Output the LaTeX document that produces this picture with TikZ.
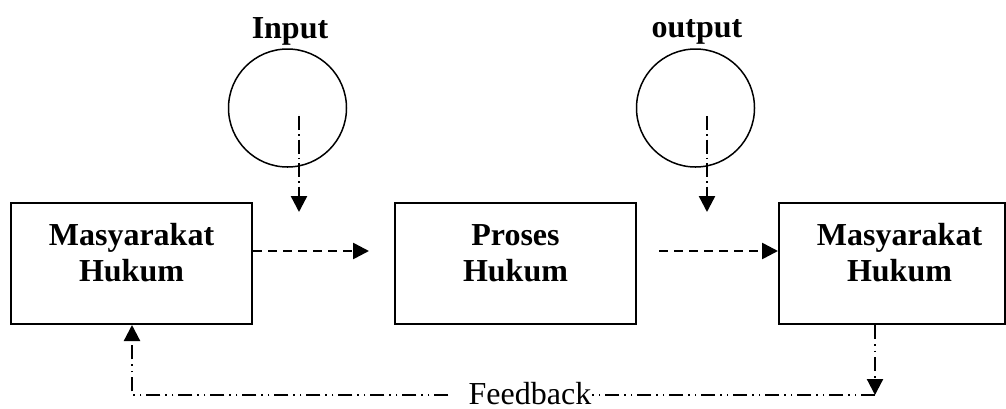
\documentclass[tikz,border=0pt]{standalone}
\usepackage{fontspec}
\setmainfont{Liberation Serif}
\usetikzlibrary{arrows.meta}
\def\blocks{{(131.5,263.5)/mA/120.5pt}, {(515.5,263.5)/pB/120.5pt}, {(892,263.5)/mC/113pt}}
\def\blocktexts{{(131.5,223)/mA/Masyarakat\\Hukum}, {(515.5,224)/pB/Proses\\Hukum}, {(899.5,223)/mC/Masyarakat\\Hukum}}
\tikzstyle{block} = [draw, line width=1pt, minimum height=60.5pt, inner sep=0pt]
\tikzstyle{block text} = [font=\bfseries\fontsize{16}{18}\selectfont, align=center, inner sep=0pt, anchor=north]
\tikzstyle{ring} = [draw, circle, line width=0.75pt, minimum size=59pt, inner sep=0pt]
\tikzstyle{ring text} = [font=\bfseries\fontsize{16}{18}\selectfont, inner sep=0pt, anchor=base]
\tikzstyle{tip} = [-{Triangle[length=8pt,width=8pt]}]
\tikzstyle{dash flow} = [draw, line width=1.3pt, dash pattern=on 4.5pt off 3pt, tip]
\tikzstyle{dot flow} = [draw, line width=1.2pt, dash pattern=on 7pt off 2pt on 0.75pt off 2pt, tip]
\tikzstyle{feedback} = [draw, line width=1.1pt, dash pattern=on 7pt off 2.5pt on 0.75pt off 2.5pt on 0.75pt off 2.5pt]

\begin{document}
\begin{tikzpicture}[x=0.5pt, y=-0.5pt]
  \useasboundingbox (0,0) rectangle (1006,408);
  \clip (0,0) rectangle (1006,408);

  % The three blocks and their texts
  \foreach \pos/\name/\bw in \blocks {
    \node[block, minimum width=\bw] (\name) at \pos {};
  }
  \foreach \pos/\name/\txt in \blocktexts {
    \node[block text] (\name-t) at \pos {\txt};
  }

  % Input and output circles
  \node[ring] (inC) at (287.5,108) {};
  \node[ring] (outC) at (695.5,108) {};
  \node[ring text] (inT) at (290,38) {Input};
  \node[ring text] (outT) at (697,37) {output};

  \coordinate (inS) at (299,116);
  \coordinate (inE) at (299,212);
  \coordinate (outS) at (707,116);
  \coordinate (outE) at (707,212);
  \draw[dot flow] (inS) -- (inE);
  \draw[dot flow] (outS) -- (outE);

  % The flow through the process
  \draw[dash flow, shorten >=12.5pt] ([yshift=6.25pt]mA.east) -- ([yshift=6.25pt]pB.west);
  \draw[dash flow, shorten <=11pt] ([yshift=6.25pt]pB.east) -- ([yshift=6.25pt]mC.west);

  % Feedback back to the start
  \node[font=\fontsize{16}{18}\selectfont, inner sep=0pt, anchor=base] (fb) at (530,404) {Feedback};
  \coordinate (fbR) at (875,395);
  \coordinate (fbL) at (132,395);
  \draw[feedback, tip] (mC.south -| fbR) -- (fbR);
  \draw[feedback] (fbR) -- (fb.east |- fbR);
  \draw[feedback, tip] ([xshift=-10pt]fb.west |- fbL) -- (fbL) -- (mA.south -| fbL);
\end{tikzpicture}
\end{document}
